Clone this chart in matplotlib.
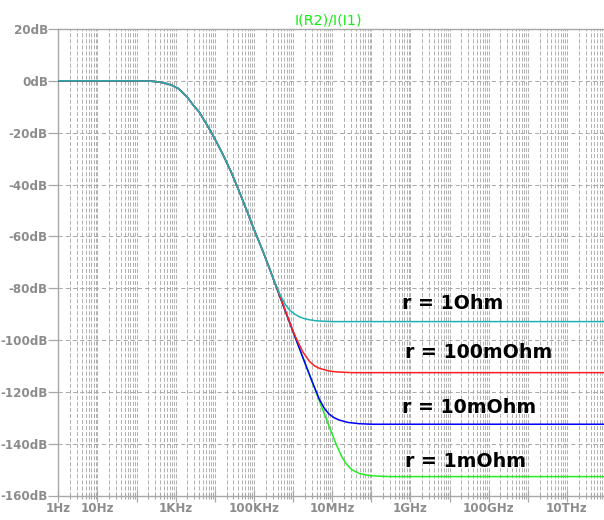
import numpy as np
import matplotlib
matplotlib.use("Agg")
import matplotlib.pyplot as plt
from matplotlib.ticker import FixedLocator, FixedFormatter

plt.rcParams['lines.scale_dashes'] = False

# ---- data (log10 of frequency in Hz, magnitude in dB) ----
common_logf = [0.0, 2.0, 2.3, 2.5, 2.7, 2.9, 3.07, 3.2, 3.3, 3.45, 3.6, 3.7, 3.87,
               4.04, 4.2, 4.4, 4.6, 4.81, 5.02, 5.23, 5.4, 5.5]
common_db = [0.0, 0.0, -0.1, -0.3, -0.8, -1.7, -3.0, -4.9, -6.4, -9.4, -12.0, -14.5, -18.8,
             -23.5, -28.2, -34.6, -41.8, -49.8, -58.0, -65.8, -72.5, -76.6]

r1_logf = [5.66, 5.8, 5.91, 6.05, 6.17, 6.3, 6.42, 6.6, 6.8, 7.0, 14.0]
r1_db = [-82.3, -86.3, -88.4, -90.1, -91.1, -91.8, -92.2, -92.6, -92.8, -92.9, -92.9]

r100m_logf = [5.7, 5.82, 6.0, 6.08, 6.25, 6.42, 6.55, 6.67, 6.9, 7.1, 7.5, 14.0]
r100m_db = [-84.5, -89.4, -96.5, -99.4, -104.6, -108.3, -110.0, -110.9, -111.9, -112.3, -112.6, -112.6]

r10m_logf = [5.82, 6.08, 6.34, 6.5, 6.67, 6.8, 6.92, 7.05, 7.18, 7.4, 7.69, 8.0, 14.0]
r10m_db = [-89.6, -100.0, -110.3, -116.5, -122.8, -126.4, -128.6, -130.0, -130.9, -131.8, -132.3, -132.5, -132.5]

r1m_logf = [5.82, 6.08, 6.34, 6.59, 6.76, 6.93, 7.10, 7.25, 7.36, 7.5, 7.69, 7.9, 8.12, 8.5, 14.0]
r1m_db = [-89.6, -100.0, -110.3, -120.3, -127.0, -133.7, -140.2, -145.2, -147.8, -150.0, -151.5, -152.2, -152.5, -152.7, -152.7]

labels = ["r = 1Ohm", "r = 100mOhm", "r = 10mOhm", "r = 1mOhm"]
label_logf = [8.776, 8.860, 8.776, 8.860]
label_db = [-88.2, -107.1, -128.3, -148.9]

y_ticks = [20, 0, -20, -40, -60, -80, -100, -120, -140, -160]
y_ticklabels = ["20dB", "0dB", "-20dB", "-40dB", "-60dB", "-80dB", "-100dB", "-120dB", "-140dB", "-160dB"]
x_tick_exp = list(range(0, 15))
x_ticklabels = ["1Hz", "10Hz", "", "1KHz", "", "100KHz", "", "10MHz", "", "1GHz", "", "100GHz", "", "10THz", ""]

title = "I(R2)/I(I1)"

# ---- figure ----
fig = plt.figure(figsize=(6.04, 5.2), dpi=100)
L, R, B, T = 58.3, 606.1, 495.5, 29.0
ax = fig.add_axes([L / 604, (520 - B) / 520, (R - L) / 604, (B - T) / 520])

def full(lf, db):
    f = np.power(10.0, np.array(common_logf + lf))
    return f, np.array(common_db + db)

series = [
    (r1m_logf, r1m_db, '#22ee22'),
    (r10m_logf, r10m_db, '#0000ff'),
    (r100m_logf, r100m_db, '#ff2020'),
    (r1_logf, r1_db, '#20b2b2'),
]
for lf, db, c in series:
    f, d = full(lf, db)
    ax.plot(f, d, color=c, lw=1.1, zorder=3)

ax.set_xscale('log')
ax.set_xlim(1, 1e14)
ax.set_ylim(-160, 20)

grid_c = '#b0b0b0'
axis_c = '#a8a8a8'
text_c = '#8c8c8c'

ax.yaxis.set_major_locator(FixedLocator(y_ticks))
ax.yaxis.set_major_formatter(FixedFormatter(y_ticklabels))
ax.xaxis.set_major_locator(FixedLocator([10.0 ** e for e in x_tick_exp]))
ax.xaxis.set_major_formatter(FixedFormatter(x_ticklabels))
minors = [m * 10.0 ** e for e in range(0, 14) for m in range(2, 10)]
ax.xaxis.set_minor_locator(FixedLocator(minors))
ax.yaxis.set_minor_locator(FixedLocator([]))

tick_font = dict(family='DejaVu Sans', weight='bold', size=8.6)
for lab in ax.get_xticklabels() + ax.get_yticklabels():
    lab.set_fontproperties(matplotlib.font_manager.FontProperties(**tick_font))
    lab.set_color(text_c)

ax.tick_params(axis='y', which='major', direction='out', length=7, width=0.9,
               color=axis_c, pad=0.5)
ax.tick_params(axis='x', which='major', direction='inout', length=8, width=0.9,
               color=axis_c, pad=0.5)
ax.tick_params(axis='x', which='minor', direction='inout', length=4, width=0.8,
               color=axis_c)

ax.xaxis.grid(True, which='both', linestyle=(0, (2.9, 1.45)), color=grid_c, lw=0.7)
ax.yaxis.grid(True, which='major', linestyle=(0, (3, 2.2)), color='#a8a8a8', lw=0.7)
ax.set_axisbelow(True)

for s in ['left', 'top', 'bottom']:
    ax.spines[s].set_color(axis_c)
    ax.spines[s].set_linewidth(1.0)
ax.spines['right'].set_visible(False)

for t, lf, d in zip(labels, label_logf, label_db):
    ax.text(10.0 ** lf, d, t, ha='left', va='baseline', color='black',
            family='DejaVu Sans', weight='bold', size=13.7, zorder=5)

fig.text(328.3 / 604, (520 - 25) / 520, title, ha='center', va='baseline',
         color='#11ee11', family='DejaVu Sans', size=10.3)

fig.savefig('out.png', dpi=100)
